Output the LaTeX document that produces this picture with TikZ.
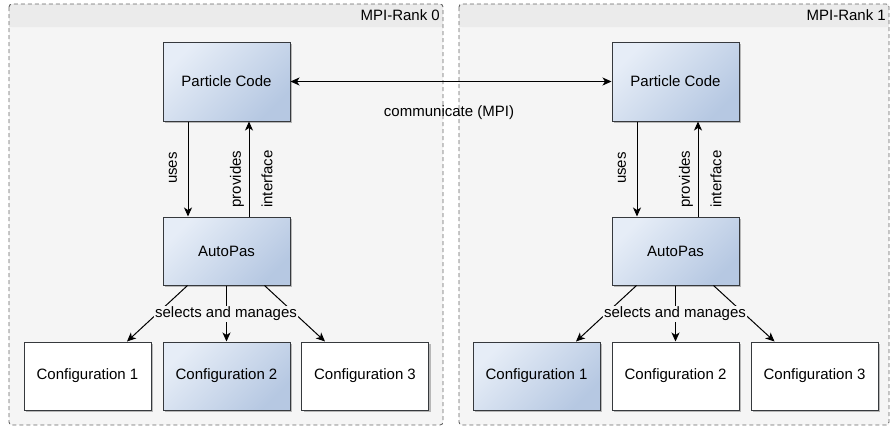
\documentclass[tikz,border=0pt]{standalone}
\usepackage{fontspec}
\setmainfont{Liberation Sans}
\usetikzlibrary{arrows.meta,shadows}
\definecolor{bodybg}{HTML}{F5F5F5}
\definecolor{headbg}{HTML}{EBEBEB}
\definecolor{framec}{HTML}{666666}
\definecolor{boxline}{HTML}{36393D}
\definecolor{gradA}{HTML}{E6EDF7}
\definecolor{gradB}{HTML}{B6C8E2}
\tikzset{
  rankframe/.style={draw=framec, line width=0.9pt, dash pattern=on 4pt off 3pt, rounded corners=3pt},
  basebox/.style={draw=boxline, line width=1pt, minimum width=127pt, inner sep=0pt,
     font=\fontsize{15}{18}\selectfont,
     drop shadow={shadow xshift=2pt, shadow yshift=-2pt, opacity=0.25, fill=black}},
  gradbox/.style={basebox, top color=gradA, bottom color=gradB, shading angle=45},
  plainbox/.style={basebox, fill=white},
  arr/.style={draw=black, line width=1pt, -{Stealth[length=9pt,width=8pt,inset=2.5pt]}},
  lbl/.style={font=\fontsize{15}{18}\selectfont, inner sep=1pt},
}
\begin{document}
\begin{tikzpicture}[x=1pt,y=-1pt]
\useasboundingbox (0,0) rectangle (891,426);
% containers
\foreach \ox/\w/\r in {0/434/0, 450/430/1}{
  \begin{scope}[xshift=\ox pt]
    \fill[bodybg] (9,4) rectangle ++(\w,421);
    \fill[headbg, rounded corners=3pt] (9,4) rectangle ++(\w,23);
    \fill[headbg] (9,15) rectangle ++(\w,12);
    \draw[rankframe] (9,4) rectangle ++(\w,421);
  \end{scope}
}
\node[lbl, anchor=east] (r0) at (441,15.5) {MPI-Rank 0};
\node[lbl, anchor=east] (r1) at (887,15.5) {MPI-Rank 1};
% rank 0 boxes
\node[gradbox, minimum height=79pt] (pc0) at (226.5,81.5) {Particle Code};
\node[gradbox, minimum height=68pt] (ap0) at (226.5,251) {AutoPas};
\node[plainbox, minimum height=68pt] (c01) at (87.5,376) {Configuration 1};
\node[gradbox, minimum height=68pt] (c02) at (226.5,376) {Configuration 2};
\node[plainbox, minimum height=68pt] (c03) at (365,376) {Configuration 3};
% rank 1 boxes
\node[gradbox, minimum height=79pt] (pc1) at (675.5,81.5) {Particle Code};
\node[gradbox, minimum height=68pt] (ap1) at (675.5,251) {AutoPas};
\node[gradbox, minimum height=68pt] (c11) at (536.5,376) {Configuration 1};
\node[plainbox, minimum height=68pt] (c12) at (675.5,376) {Configuration 2};
\node[plainbox, minimum height=68pt] (c13) at (814.5,376) {Configuration 3};
% communicate
\draw[line width=1pt, {Stealth[length=9pt,width=8pt,inset=2.5pt]}-{Stealth[length=9pt,width=8pt,inset=2.5pt]}] (pc0.east) -- (pc1.west);
\node[lbl] (comm) at (449,113) {communicate (MPI)};
% uses / provides interface
\foreach \i in {0,1}{
  \draw[arr] ([xshift=-38.5pt]pc\i.south) -- ([xshift=-38.5pt]ap\i.north);
  \draw[arr] ([xshift=22.5pt]ap\i.north) -- ([xshift=22.5pt]pc\i.south);
  \draw[arr] ([xshift=-39pt]ap\i.south) -- ([xshift=39.5pt]c\i1.north);
  \draw[arr] (ap\i.south) -- (c\i2.north);
  \draw[arr] ([xshift=38pt]ap\i.south) -- ([xshift=-40pt]c\i3.north);
}
\node[lbl, rotate=90] (u0) at (173,168) {uses};
\node[lbl, rotate=90] (p0) at (237,179) {provides};
\node[lbl, rotate=90] (i0) at (267,179) {interface};
\node[lbl, rotate=90] (u1) at (622,168) {uses};
\node[lbl, rotate=90] (p1) at (686,179) {provides};
\node[lbl, rotate=90] (i1) at (716,179) {interface};
\node[lbl, fill=bodybg] (s0) at (226,314) {selects and manages};
\node[lbl, fill=bodybg] (s1) at (675,314) {selects and manages};
\end{tikzpicture}
\end{document}
